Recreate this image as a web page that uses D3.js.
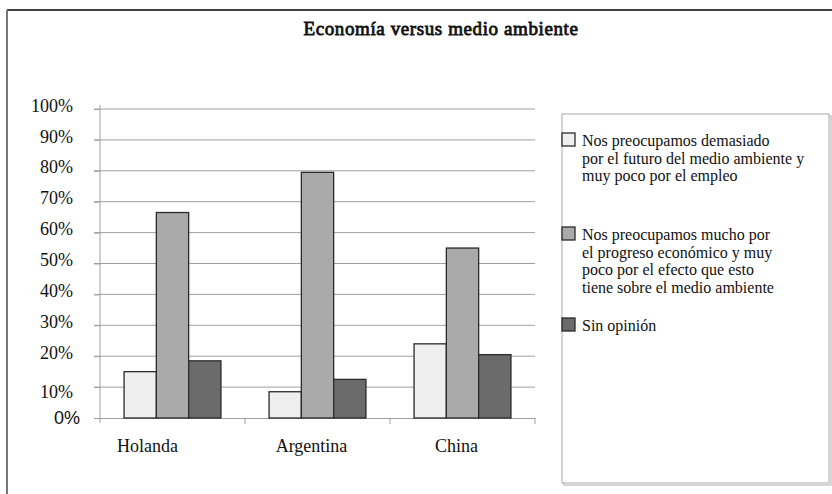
<!DOCTYPE html>
<html><head><meta charset="utf-8">
<script src="https://cdn.jsdelivr.net/npm/d3@7"></script>
<style>
html,body{margin:0;padding:0;background:#fff;}
svg{display:block;}
</style></head>
<body>
<svg id="c" width="832" height="494"></svg>
<script>
const title = "Economía versus medio ambiente";
const categories = ["Holanda", "Argentina", "China"];
const seriesNames = [
  "Nos preocupamos demasiado por el futuro del medio ambiente y muy poco por el empleo",
  "Nos preocupamos mucho por el progreso económico y muy poco por el efecto que esto tiene sobre el medio ambiente",
  "Sin opinión"
];
const legendLines = [
  ["Nos preocupamos demasiado", "por el futuro del medio ambiente y", "muy poco por el empleo"],
  ["Nos preocupamos mucho por", "el progreso económico y muy", "poco por el efecto que esto", "tiene sobre el medio ambiente"],
  ["Sin opinión"]
];
const seriesA = [15, 8.5, 24];     // demasiado por el medio ambiente
const seriesB = [66.5, 79.5, 55];  // mucho por el progreso económico
const seriesC = [18.5, 12.5, 20.5]; // sin opinión
const yTicks = [0, 10, 20, 30, 40, 50, 60, 70, 80, 90, 100];
const colors = ["#efefef", "#aaaaaa", "#6b6b6b"];

const allSeries = [seriesA, seriesB, seriesC];
const svg = d3.select("#c");
const serif = "'Liberation Serif','Times New Roman',serif";

// outer frame
svg.append("line").attr("x1", 7).attr("x2", 832).attr("y1", 10).attr("y2", 10)
  .attr("stroke", "#000").attr("stroke-width", 1.5);
svg.append("line").attr("x1", 7).attr("x2", 7).attr("y1", 10).attr("y2", 494)
  .attr("stroke", "#777").attr("stroke-width", 2);

// title (serif, emboldened with a thin stroke)
svg.append("text").attr("x", 441).attr("y", 35).attr("text-anchor", "middle")
  .attr("font-family", serif).attr("font-size", 19).attr("font-weight", "normal")
  .attr("fill", "#111").attr("stroke", "#111").attr("stroke-width", 0.8)
  .attr("letter-spacing", 0.6).text(title);

const y = d3.scaleLinear().domain([0, 100]).range([418, 109]);
const x0 = d3.scaleBand().domain(categories).range([100, 535]).padding(0);
const x1 = d3.scaleBand().domain([0, 1, 2]).range([0, x0.bandwidth()]).paddingInner(0).paddingOuter(0.745);

// gridlines
svg.append("g").selectAll("line").data(yTicks.filter(d => d > 0)).join("line")
  .attr("x1", 94).attr("x2", 535).attr("y1", d => y(d)).attr("y2", d => y(d))
  .attr("stroke", "#a0a0a0").attr("stroke-width", 1);

// y axis
const yAxis = svg.append("g").attr("transform", "translate(100,0)")
  .call(d3.axisLeft(y).tickValues(yTicks).tickSize(6).tickPadding(0).tickFormat(d => d + "%"));
yAxis.select(".domain").attr("stroke", "#a0a0a0").attr("d", "M0,105V423");
yAxis.selectAll(".tick line").attr("stroke", "#a0a0a0");
yAxis.selectAll(".tick text")
  .attr("font-family", d => d === 0 ? "'Liberation Sans',Arial,sans-serif" : serif)
  .attr("font-size", 18).attr("fill", "#111")
  .attr("x", d => d === 0 ? -20 : -27)
  .attr("dy", d => d === 0 ? "0.32em" : (d === 10 ? "0.55em" : "0.12em"));

// x axis
const xAxis = svg.append("g").attr("transform", "translate(0,418)")
  .call(d3.axisBottom(x0).tickSize(0).tickPadding(0));
xAxis.select(".domain").attr("stroke", "#a0a0a0");
const bounds = [100, 100 + x0.step(), 100 + 2 * x0.step(), 535];
svg.append("g").selectAll("line").data(bounds.slice(1)).join("line")
  .attr("x1", d => d).attr("x2", d => d).attr("y1", 418).attr("y2", 424)
  .attr("stroke", "#a0a0a0");
xAxis.selectAll(".tick text")
  .attr("font-family", serif).attr("font-size", 18).attr("fill", "#111")
  .attr("y", 34).attr("dy", 0)
  .attr("dx", (d, i) => i === 0 ? -25 : -6);

// bars
const groups = svg.append("g").selectAll("g").data(categories).join("g")
  .attr("transform", d => `translate(${x0(d)},0)`);
groups.selectAll("rect").data((c, ci) => allSeries.map((s, si) => ({si, v: s[ci]}))).join("rect")
  .attr("x", d => x1(d.si)).attr("width", x1.bandwidth())
  .attr("y", d => y(d.v)).attr("height", d => y(0) - y(d.v))
  .attr("fill", d => colors[d.si]).attr("stroke", "#2a2a2a").attr("stroke-width", 1.3);

// legend
svg.append("rect").attr("x", 564).attr("y", 116).attr("width", 267).attr("height", 369)
  .attr("fill", "none").attr("stroke", "#c8c8c8").attr("stroke-width", 1.5);
svg.append("rect").attr("x", 562).attr("y", 114).attr("width", 267).attr("height", 369)
  .attr("fill", "#fff").attr("stroke", "#aaa").attr("stroke-width", 1);
const legY = [133, 227, 318];
const leg = svg.append("g").selectAll("g").data(seriesNames).join("g")
  .attr("transform", (d, i) => `translate(562,${legY[i]})`);
leg.append("rect").attr("x", 0).attr("y", 0).attr("width", 13).attr("height", 13)
  .attr("fill", (d, i) => colors[i]).attr("stroke", "#2a2a2a").attr("stroke-width", 1.3);
leg.append("text").attr("font-family", serif).attr("font-size", 16).attr("fill", "#111")
  .selectAll("tspan").data((d, i) => legendLines[i]).join("tspan")
  .attr("x", 20).attr("y", (d, j) => 13 + j * 17.6).text(d => d);
</script>
</body></html>
